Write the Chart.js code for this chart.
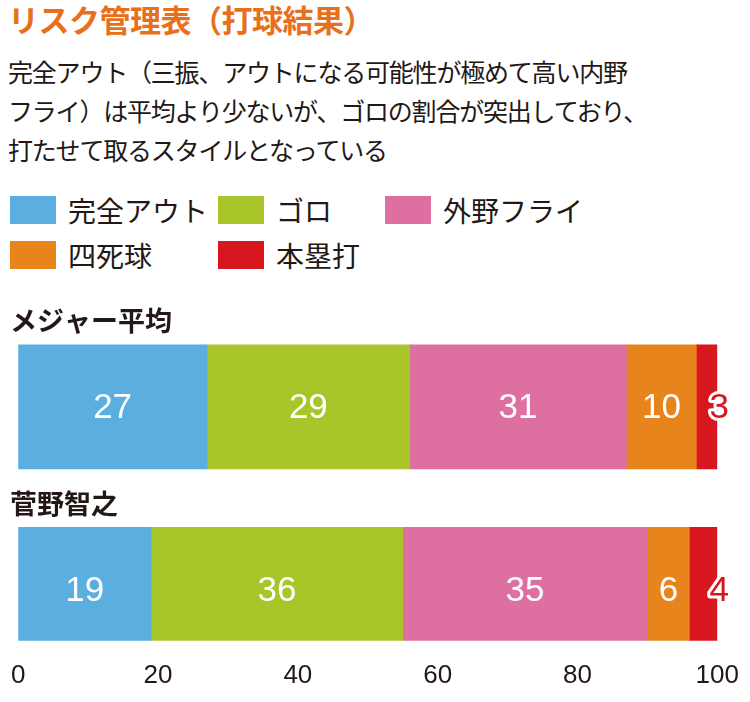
<!DOCTYPE html>
<html><head><meta charset="utf-8">
<script src="https://cdn.jsdelivr.net/npm/chart.js@4"></script>
<style>
body{margin:0;width:750px;height:702px;background:#fff;font-family:"Noto Sans CJK JP",sans-serif;color:#231815;position:relative;overflow:hidden}
#title{position:absolute;left:8px;top:-4px;font-size:31px;font-weight:bold;color:#e8701a;letter-spacing:-0.5px}
#sub{position:absolute;left:8px;top:52px;font-size:25px;line-height:39px;letter-spacing:-1.2px}
.lg{position:absolute;font-size:28px;display:flex;align-items:center;height:34px}
.lg span{display:inline-block;width:46px;height:28px;margin-right:12px}
#wrap{position:absolute;left:0;top:300px;width:750px;height:402px}
</style></head><body>
<div id="title">リスク管理表（打球結果）</div>
<div id="sub">完全アウト（三振、アウトになる可能性が極めて高い内野<br>フライ）は平均より少ないが、ゴロの割合が突出しており、<br>打たせて取るスタイルとなっている</div>
<div id="legend"></div>
<div id="wrap"><canvas id="c"></canvas></div>
<script>
const categories=["メジャー平均","菅野智之"];
const seriesNames=["完全アウト","ゴロ","外野フライ","四死球","本塁打"];
const seriesColors=["#5aaee0","#a8c62a","#de6fa1","#e8841c","#d7161e"];
const major=[27,29,31,10,3];
const sugano=[19,36,35,6,4];
const xTicks=[0,20,40,60,80,100];

const legPos=[[10,193],[218,193],[385,193],[10,238],[218,238]];
const lg=document.getElementById('legend');
seriesNames.forEach((n,i)=>{const d=document.createElement('div');d.className='lg';d.style.left=legPos[i][0]+'px';d.style.top=legPos[i][1]+'px';d.innerHTML='<span style="background:'+seriesColors[i]+'"></span>'+n;lg.appendChild(d);});

const rows=[major,sugano];
const datasets=seriesNames.map((n,i)=>({label:n,backgroundColor:seriesColors[i],borderWidth:0,barThickness:124,
 data:rows.map((r,j)=>({x:r[i],y:j}))}));

const labelPlugin={id:'lbl',afterDatasetsDraw(ch){
 const c=ch.ctx;const ys=ch.scales.y;
 c.save();c.font='bold 27px "Noto Sans CJK JP"';c.fillStyle='#231815';c.textBaseline='middle';c.textAlign='left';
 categories.forEach((n,j)=>{c.fillText(n,10,ys.getPixelForValue(j)-62-24);});
 c.font='35px "Liberation Sans", Arial';c.textAlign='center';
 ch.data.datasets.forEach((ds,i)=>{ch.getDatasetMeta(i).data.forEach((b,j)=>{
  const v=ds.data[j].x;const y=b.y+2;
  if(i===4){const x=b.x+2;c.lineWidth=6;c.strokeStyle='#fff';c.lineJoin='round';c.strokeText(v,x,y);c.fillStyle='#d7161e';c.fillText(v,x,y);}
  else{c.fillStyle='#fff';c.fillText(v,(b.x+b.base)/2,y);}
 });});
 c.restore();}};

new Chart(document.getElementById('c'),{type:'bar',
 data:{datasets},
 options:{indexAxis:'y',responsive:true,maintainAspectRatio:false,animation:false,
  layout:{padding:{left:10,right:28,top:0,bottom:0}},
  plugins:{legend:{display:false},tooltip:{enabled:false}},
  scales:{
   x:{type:'linear',stacked:true,min:0,max:100,afterBuildTicks:s=>{s.ticks=xTicks.map(v=>({value:v}));},
      grid:{display:false},border:{display:false},
      ticks:{color:'#231815',font:{size:26,family:'"Liberation Sans", Arial'},padding:11,maxRotation:0}},
   y:{type:'linear',stacked:true,reverse:true,min:-0.492,max:1.189,display:false}
  }},
 plugins:[labelPlugin]});
</script></body></html>
